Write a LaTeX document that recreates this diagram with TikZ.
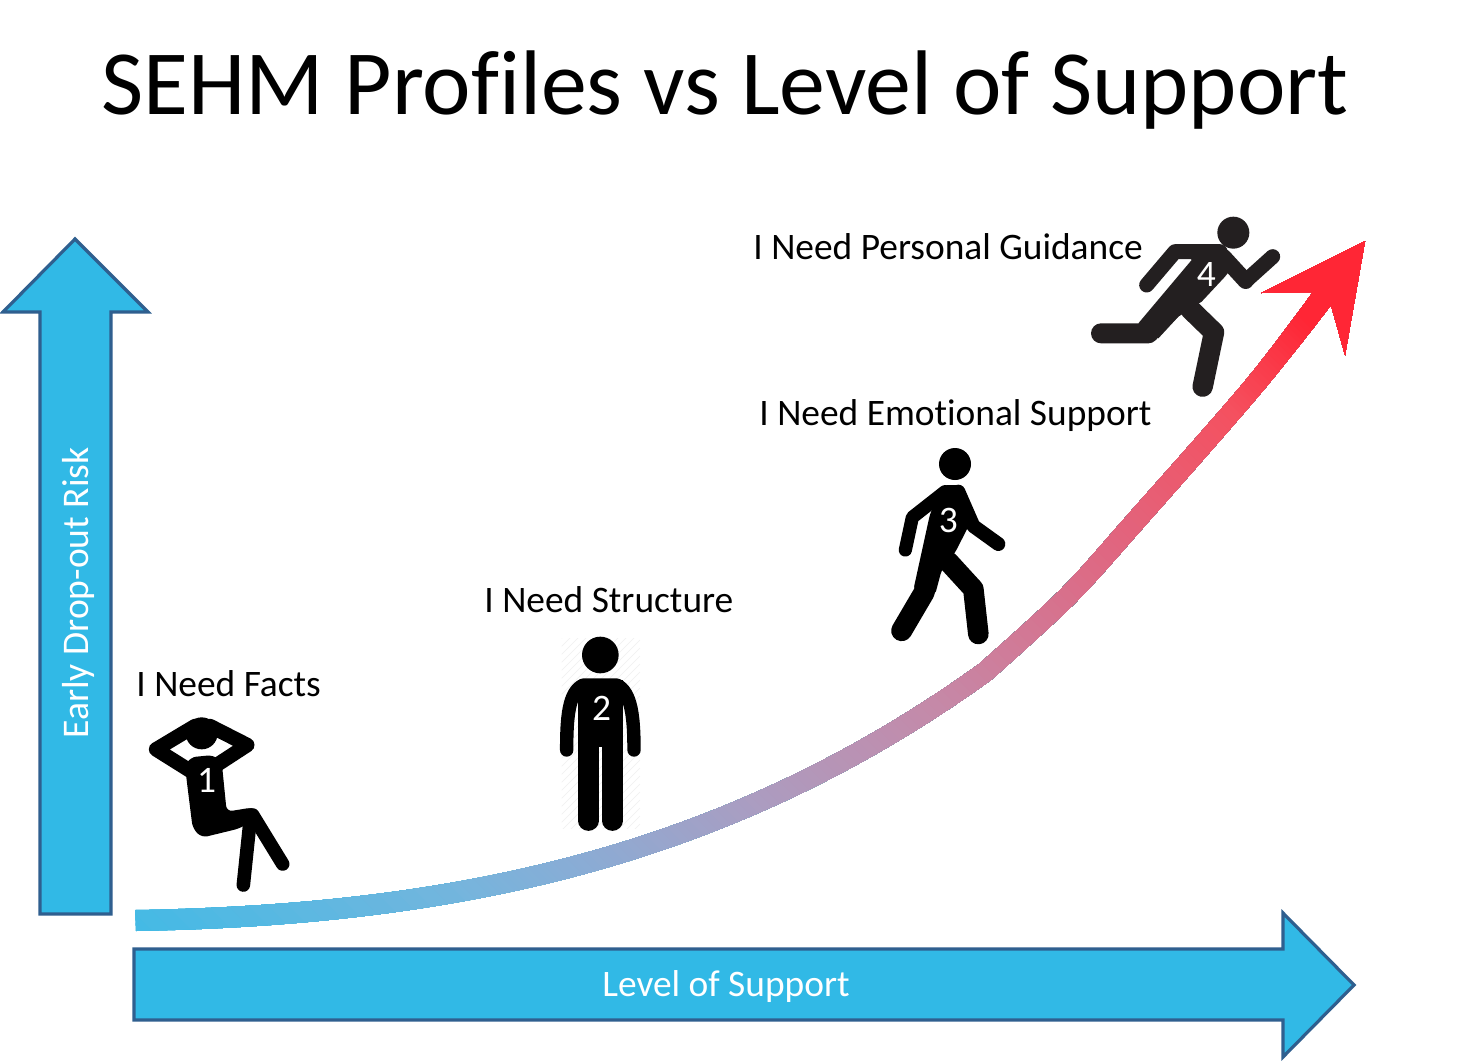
\documentclass[tikz,border=0pt]{standalone}
\usepackage{fontspec}
\setmainfont[Ligatures=NoCommon]{Carlito}
\definecolor{arrowfill}{HTML}{31B9E6}
\definecolor{arrowline}{HTML}{2F5F8F}
\definecolor{figdark}{HTML}{231F20}
\definecolor{ga}{HTML}{31BCE8}
\definecolor{gb}{HTML}{75B5DD}
\definecolor{gc}{HTML}{8AACD5}
\definecolor{gd}{HTML}{AC9CC0}
\definecolor{ge}{HTML}{C589A8}
\definecolor{gf}{HTML}{E06680}
\definecolor{gg}{HTML}{F5505F}
\definecolor{gh}{HTML}{FF2433}
\tikzset{
  blockarrow/.style={fill=arrowfill,draw=arrowline,line width=1.6pt,miter limit=10},
  fig/.style={fill=black,draw=none},
  limb/.style={draw=black,line cap=round,line join=round},
  num/.style={text=white,font=\fontsize{18.7}{20}\selectfont,inner sep=0pt},
  caption/.style={text=black,font=\fontsize{18.7}{20}\selectfont,inner sep=0pt,anchor=base west},
  zoomed/.style={scale=1/3}
}
\begin{document}
\begin{tikzpicture}[x=0.5pt,y=-0.5pt]
\useasboundingbox (0,0) rectangle (1472,1060);
\fill[white] (0,0) rectangle (1472,1060);
\node[inner sep=0pt,font=\fontsize{45.9}{48}\selectfont] (title) at (725,90) {SEHM Profiles vs Level of Support};
% block arrows
\draw[blockarrow] (75,239) -- (148,312) -- (111,312) -- (111,914) -- (40,914) -- (40,312) -- (3,312) -- cycle;
\node[rotate=90,text=white,inner sep=0pt,font=\fontsize{18.8}{20}\selectfont] (risk) at (78,593) {Early Drop-out Risk};
\draw[blockarrow] (134,949) -- (1283,949) -- (1283,913) -- (1354,985) -- (1283,1057) -- (1283,1020) -- (134,1020) -- cycle;
\node[text=white,inner sep=0pt,font=\fontsize{18.7}{20}\selectfont] (support) at (726,987) {Level of Support};
% gradient curve
\begin{scope}
\clip (135,910) .. controls (450,905) and (720,850) .. (978.8,664.2)
  -- plot[smooth,tension=0.55] coordinates {(978.8,664.2) (1060,590) (1125.5,517.3) (1245.2,380.8) (1313,292)}
  -- (1261,293) -- (1365,241) -- (1345,355) -- (1331,305)
  -- plot[smooth,tension=0.55] coordinates {(1331,305) (1260.8,393.2) (1140.5,530.7) (1074,604) (991.2,679.8)}
  .. controls (730,868) and (455,925) .. (136,931) -- cycle;
\foreach \sa/\sb/\ca/\cb in {-20/485/ga/gb,485/635/gb/gc,635/875/gc/gd,875/1145/gd/ge,1145/1480/ge/gf,1480/1740/gf/gg,1740/1909/gg/gh}{
  \foreach \p in {0,4,...,96}{
    \pgfmathsetmacro{\s}{\sa+(\sb-\sa)*(\p/100)}
    \fill[color=\cb!\p!\ca] (100,{1020-\s}) -- (1500,{2420-\s}) -- ++(2000,-2000) -- ++(-1400,-1400) -- cycle;
  }
}
\end{scope}
% figure 1
\begin{scope}[shift={(130,700)},zoomed]
\fill[fig] (215,100) circle (48);
\draw[limb,line width=7.2pt] (195,78) -- (78,148) -- (180,212);
\draw[limb,line width=7.2pt] (240,78) -- (352,135) -- (260,195);
\fill[fig,rounded corners=3pt] (165,200) -- (180,172) -- (250,165) -- (275,185) -- (290,335) -- (370,322) -- (395,345) -- (330,385) -- (215,413) -- (188,385) -- cycle;
\draw[limb,line width=6.8pt] (362,345) -- (340,555);
\draw[limb,line width=6.8pt] (368,345) -- (458,492);
\node[num] (n1) at (230,240) {1};
\end{scope}
% figure 2
\begin{scope}[shift={(540,625)},zoomed]
\begin{scope}
\clip (65,40) rectangle (300,610);
\foreach \k in {0,24,...,840}{\draw[black!6,line width=0.3pt] (65,{40+\k}) -- (300,{\k-195});}
\end{scope}
\fill[fig] (181,90) circle (55);
\draw[limb,line width=6.7pt] (80,375) .. controls (80,280) and (85,200) .. (130,180) -- (230,180) .. controls (275,200) and (282,280) .. (282,375);
\fill[fig] (115,165) rectangle (248,365);
\draw[limb,line width=10.2pt] (145,360) -- (145,587);
\draw[limb,line width=10.2pt] (217,360) -- (217,587);
\node[num] (n2) at (185,250) {2};
\end{scope}
% figure 3
\begin{scope}[shift={(880,440)},zoomed]
\fill[fig] (225,72) circle (48);
\draw[limb,line width=6.6pt] (195,155) -- (97,232) -- (76,330);
\draw[limb,line width=7pt] (235,155) -- (280,258) -- (355,312);
\fill[fig,rounded corners=2pt] (190,135) -- (240,135) -- (262,175) -- (270,250) -- (225,338) -- (185,390) -- (165,465) -- (100,450) -- (150,222) -- cycle;
\draw[limb,line width=10.5pt] (150,390) -- (132,458) -- (65,572);
\draw[limb,line width=10.3pt] (205,365) -- (280,447) -- (295,582);
\node[num] (n3) at (205,240) {3};
\end{scope}
% figure 4
\begin{scope}[shift={(1080,205)},zoomed]
\fill[figdark] (460,83) circle (48);
\draw[limb,draw=figdark,line width=7.5pt] (200,240) -- (285,140) -- (420,140);
\draw[limb,draw=figdark,line width=8pt] (430,155) -- (497,228);
\draw[limb,draw=figdark,line width=7.5pt] (497,228) -- (578,155);
\fill[figdark] (300,118) -- (420,118) -- (470,170) -- (435,215) -- (365,290) -- (295,335) -- (235,400) -- (175,355) -- (335,165) -- cycle;
\draw[limb,draw=figdark,line width=10pt] (63,385) -- (205,385) -- (310,275);
\draw[limb,draw=figdark,line width=10.2pt] (330,312) -- (402,382) -- (368,545);
\node[num] (n4) at (379,208) {4};
\end{scope}
% captions
\node[caption] (c1) at (136,696) {I Need Facts};
\node[caption] (c2) at (484,612) {I Need Structure};
\node[caption] (c3) at (759,425) {I Need Emotional Support};
\node[caption] (c4) at (753,259) {I Need Personal Guidance};
\end{tikzpicture}
\end{document}
